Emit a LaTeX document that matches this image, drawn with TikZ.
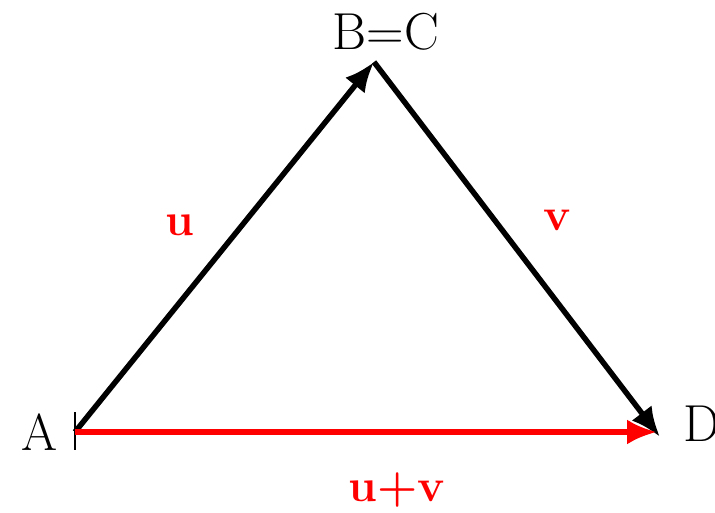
\documentclass[tikz,border=0pt]{standalone}
\usetikzlibrary{arrows.meta}
\begin{document}
\begin{tikzpicture}[x=1pt,y=-1pt,
  vec/.style={line width=5.5pt,-{Latex[length=30pt,width=25pt]}},
  ptlabel/.style={font=\fontsize{52}{58}\selectfont,inner sep=0pt},
  veclabel/.style={font=\fontsize{46}{52}\selectfont\bfseries,text=red,inner sep=0pt}]
\useasboundingbox (0,0) rectangle (715,512);
\coordinate (A) at (75,432);
\coordinate (B) at (374,62);
\coordinate (D) at (660,437);
\coordinate (Dr) at (657,432);
\coordinate (t1) at (75,412);
\coordinate (t2) at (75,450);
\draw[line width=2pt] (t1) -- (t2);
\draw[vec] (A) -- (B);
\draw[vec] (B) -- (D);
\draw[vec,red] (A) -- (Dr);
\node[ptlabel] (lA) at (40,432) {A};
\node[ptlabel] (lB) at (386,32) {B=C};
\node[ptlabel,anchor=west] (lD) at (683,424) {D};
\node[veclabel] (lu) at (180,225) {u};
\node[veclabel] (lv) at (557,220) {v};
\node[veclabel] (luv) at (397,490) {u+v};
\end{tikzpicture}
\end{document}
